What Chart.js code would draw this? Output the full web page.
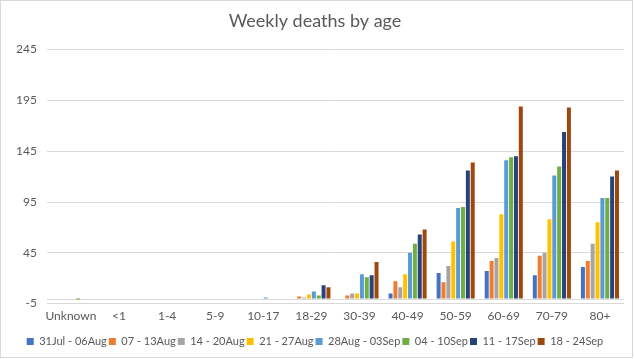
<!DOCTYPE html>
<html>
<head>
<meta charset="utf-8">
<script src="https://cdn.jsdelivr.net/npm/chart.js@4"></script>
<style>
  html, body { margin: 0; padding: 0; background: #fff; }
  #wrap { width: 634px; height: 359px; }
</style>
</head>
<body>
<div id="wrap"><canvas id="deathsChart" width="634" height="359"></canvas></div>
<script>
// Age bands on the x axis
const ageBands = ['Unknown', '<1', '1-4', '5-9', '10-17', '18-29', '30-39', '40-49', '50-59', '60-69', '70-79', '80+'];

// Weekly deaths per age band
const week1 = [0, 0, 0, 0, 0, 0, 0, 5, 25, 27, 23, 31];
const week2 = [0, 0, 0, 0, 0, 2, 3, 17, 16, 37, 42, 37];
const week3 = [0, 0, 0, 0, 0, 1, 5, 11, 32, 40, 45, 54];
const week4 = [0, 0, 0, 0, 0, 4, 5, 24, 56, 83, 78, 75];
const week5 = [0, 0, 0, 0, 1, 7, 24, 45, 89, 136, 121, 99];
const week6 = [-1, 0, 0, 0, 0, 3, 21, 54, 90, 139, 130, 99];
const week7 = [0, 0, 0, 0, 0, 13, 23, 63, 126, 140, 164, 120];
const week8 = [0, 0, 0, 0, 0, 11, 36, 68, 134, 189, 188, 126];

const weekLabels = ['31Jul - 06Aug', '07 - 13Aug', '14 - 20Aug', '21 - 27Aug',
  '28Aug - 03Sep', '04 - 10Sep', '11 - 17Sep', '18 - 24Sep'];
const yTicks = [-5, 45, 95, 145, 195, 245];

const colours = ['#4472C4', '#ED7D31', '#A5A5A5', '#FFC000', '#5B9BD5', '#70AD47', '#264478', '#9E480E'];
const series = [week1, week2, week3, week4, week5, week6, week7, week8];

const textColour = '#595959';
const fontFamily = 'Lato, "Liberation Sans", sans-serif';

// zero line (Excel draws the category axis at 0) and outer frame
const extras = {
  id: 'extras',
  beforeDatasetsDraw(chart) {
    const c = chart.ctx;
    const y = Math.round(chart.scales.y.getPixelForValue(0)) + 0.5;
    c.save();
    c.strokeStyle = '#d9d9d9';
    c.lineWidth = 1;
    c.beginPath();
    c.moveTo(chart.chartArea.left, y);
    c.lineTo(chart.chartArea.right, y);
    c.stroke();
    c.restore();
  },
  afterDraw(chart) {
    const c = chart.ctx;
    c.save();
    c.strokeStyle = '#d9d9d9';
    c.lineWidth = 1;
    c.strokeRect(0.5, 0.5, 632, 357);
    c.restore();
  }
};

const ctx = document.getElementById('deathsChart').getContext('2d');
new Chart(ctx, {
  type: 'bar',
  data: {
    labels: ageBands,
    datasets: series.map((d, i) => ({
      label: weekLabels[i],
      data: d,
      backgroundColor: colours[i],
      categoryPercentage: 0.81,
      barPercentage: 0.82
    }))
  },
  options: {
    responsive: false,
    animation: false,
    layout: { padding: { left: 6, right: 10, top: 4, bottom: 2 } },
    plugins: {
      title: {
        display: true,
        text: 'Weekly deaths by age',
        color: textColour,
        font: { family: fontFamily, size: 18, weight: 'normal' },
        padding: { top: 6, bottom: 18 }
      },
      legend: {
        position: 'bottom',
        labels: {
          color: textColour,
          font: { family: fontFamily, size: 11 },
          boxWidth: 7,
          boxHeight: 7,
          padding: 2
        }
      },
      tooltip: { enabled: false }
    },
    scales: {
      y: {
        min: -5,
        max: 245,
        afterBuildTicks(axis) {
          axis.ticks = yTicks.map(v => ({ value: v }));
        },
        grid: { color: '#d9d9d9', drawTicks: false },
        border: { display: false },
        ticks: {
          color: textColour,
          font: { family: fontFamily, size: 12 },
          padding: 10
        }
      },
      x: {
        grid: { display: false, drawTicks: false },
        border: { display: false },
        afterFit(scale) {
          scale.height += 6; // room between age labels and legend
        },
        ticks: {
          color: textColour,
          font: { family: fontFamily, size: 12 },
          padding: 5,
          maxRotation: 0,
          autoSkip: false
        }
      }
    }
  },
  plugins: [extras]
});
</script>
</body>
</html>
